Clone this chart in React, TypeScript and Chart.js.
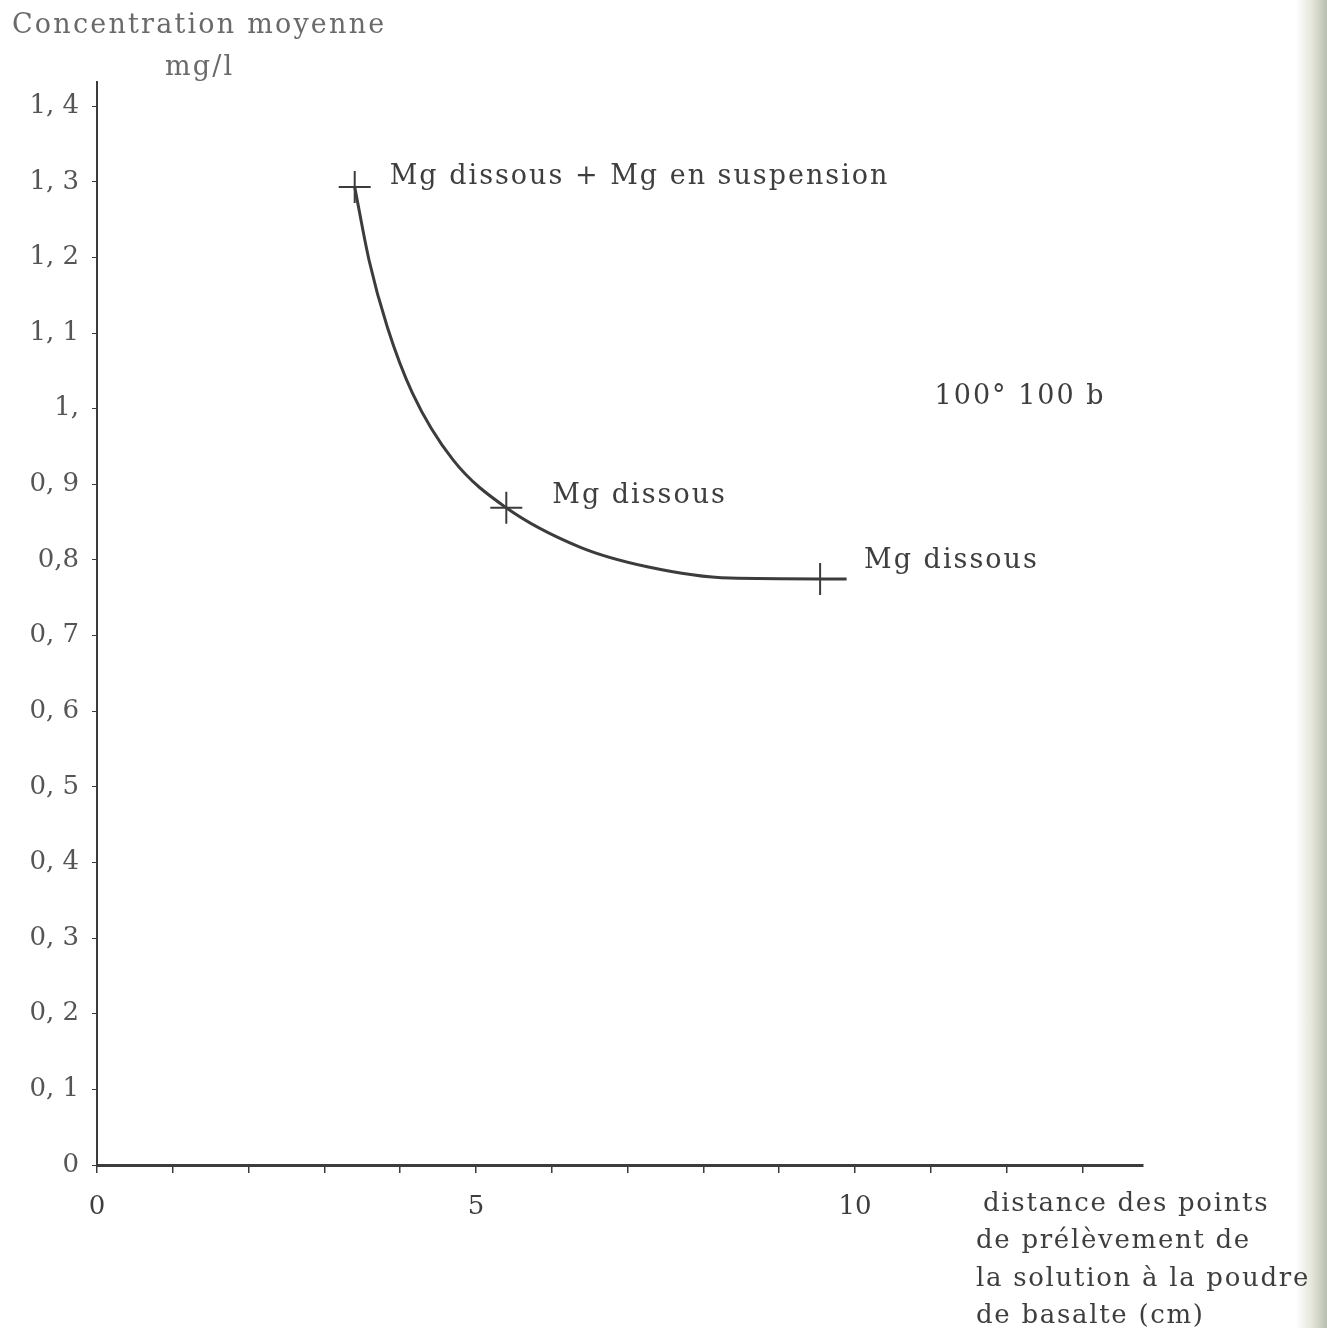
import React, { useEffect, useRef } from "react";
import { Chart, registerables } from "chart.js";

Chart.register(...registerables);

// Measured points (cm, mg/l)
const measuredX = [3.4, 5.4, 9.54];
const measuredY = [1.293, 0.869, 0.775];
const pointLabels = ["Mg dissous + Mg en suspension", "Mg dissous", "Mg dissous"];

// Hand-drawn curve read along its path
const curveX = [3.4, 3.59, 3.83, 4.16, 4.7, 5.4, 6.37, 7.26, 8.35, 9.54, 9.89];
const curveY = [1.293, 1.196, 1.108, 1.021, 0.932, 0.869, 0.817, 0.791, 0.776, 0.775, 0.775];

// Axis ticks
const yTickLabels = ["0", "0, 1", "0, 2", "0, 3", "0, 4", "0, 5", "0, 6", "0, 7", "0,8", "0, 9", "1,", "1, 1", "1, 2", "1, 3", "1, 4"];
const xTickLabels: Record<number, string> = { 0: "0", 5: "5", 10: "10" };

const yTitleLines = ["Concentration moyenne", "mg/l"];
const xTitleLines = ["distance des points", "de prélèvement de", "la solution à la poudre", "de basalte (cm)"];
const sideNote = { text: "100° 100 b", x: 11.05, y: 1.015 };

const FONT = "'DejaVu Serif', 'Liberation Serif', serif";
const TEXT = "#3e3e3e";
const LINE = "#3c3c3c";

export default function App() {
  const ref = useRef<HTMLCanvasElement | null>(null);

  useEffect(() => {
    document.body.style.margin = "0";
    const canvas = ref.current;
    if (!canvas) return;

    const textPlugin = {
      id: "texts",
      afterDatasetsDraw(chart: any) {
        const ctx = chart.ctx as CanvasRenderingContext2D;
        const xs = chart.scales.x;
        const ys = chart.scales.y;
        ctx.save();
        ctx.textBaseline = "middle";
        ctx.textAlign = "left";
        ctx.fillStyle = TEXT;
        (ctx as any).letterSpacing = "2px";
        ctx.font = `27px ${FONT}`;
        const offs = [
          [35, -10],
          [46, -12],
          [44, -18],
        ];
        measuredX.forEach((mx, i) => {
          const px = xs.getPixelForValue(mx);
          const py = ys.getPixelForValue(measuredY[i]);
          ctx.fillText(pointLabels[i], px + offs[i][0], py + offs[i][1]);
        });
        ctx.fillText(sideNote.text, xs.getPixelForValue(sideNote.x), ys.getPixelForValue(sideNote.y));

        // y-axis title
        ctx.fillStyle = "#6a6a6a";
        (ctx as any).letterSpacing = "2.2px";
        ctx.font = `27px ${FONT}`;
        ctx.fillText(yTitleLines[0], 12, 26);
        ctx.fillText(yTitleLines[1], 165, 68);

        // x-axis title
        ctx.fillStyle = TEXT;
        (ctx as any).letterSpacing = "1.7px";
        ctx.font = `26px ${FONT}`;
        const xl = [983, 976, 976, 976];
        xTitleLines.forEach((t, i) => ctx.fillText(t, xl[i], 1204 + i * 37.5));
        ctx.restore();
      },
    };

    const chart = new Chart(canvas, {
      type: "scatter",
      data: {
        datasets: [
          {
            label: "courbe",
            data: curveX.map((x, i) => ({ x, y: curveY[i] })),
            showLine: true,
            borderColor: LINE,
            borderWidth: 3,
            pointRadius: 0,
            cubicInterpolationMode: "monotone",
          },
          {
            label: "points",
            data: measuredX.map((x, i) => ({ x, y: measuredY[i] })),
            pointStyle: "cross",
            pointRadius: 16,
            borderColor: LINE,
            borderWidth: 2,
            showLine: false,
          },
        ],
      },
      plugins: [textPlugin],
      options: {
        animation: false,
        responsive: false,
        layout: { padding: { top: 82, right: 184, left: 0, bottom: 0 } },
        plugins: { legend: { display: false }, tooltip: { enabled: false } },
        scales: {
          x: {
            type: "linear",
            min: 0,
            max: 13.8,
            afterFit: (s: any) => {
              s.height = 163;
            },
            border: { display: true, color: LINE, width: 3 },
            grid: { drawOnChartArea: false, drawTicks: true, tickLength: 8, color: LINE, lineWidth: 1.5 },
            ticks: {
              stepSize: 1,
              includeBounds: false,
              autoSkip: false,
              maxRotation: 0,
              padding: 19,
              color: TEXT,
              font: { family: FONT, size: 26 },
              callback: (v: any) => xTickLabels[Math.round(Number(v))] ?? "",
            },
          },
          y: {
            type: "linear",
            min: 0,
            max: 1.432,
            afterFit: (s: any) => {
              s.width = 97;
            },
            border: { display: true, color: LINE, width: 2 },
            grid: { drawOnChartArea: false, drawTicks: true, tickLength: 5, color: LINE, lineWidth: 1 },
            ticks: {
              stepSize: 0.1,
              includeBounds: false,
              autoSkip: false,
              padding: 13,
              color: "#555555",
              font: { family: FONT, size: 26 },
              callback: (v: any) => yTickLabels[Math.round(Number(v) * 10)] ?? "",
            },
          },
        },
      },
    } as any);

    return () => chart.destroy();
  }, []);

  return (
    <div
      style={{
        position: "relative",
        width: 1327,
        height: 1328,
        background: "linear-gradient(to right, #ffffff 0px, #ffffff 1296px, #e4e6da 1312px, #b9bfae 1327px)",
      }}
    >
      <canvas ref={ref} width={1327} height={1328} style={{ display: "block" }} />
    </div>
  );
}
